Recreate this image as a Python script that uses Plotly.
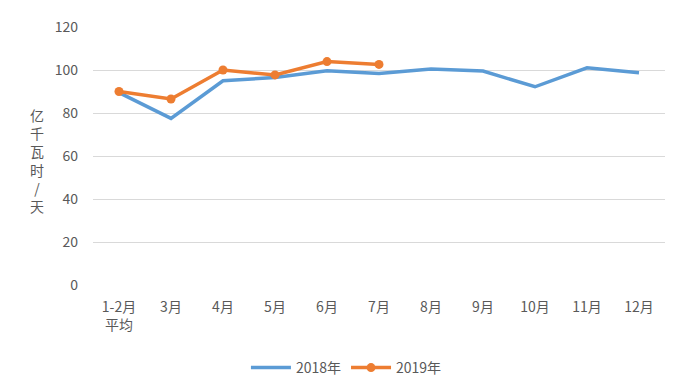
import plotly.graph_objects as go

categories = ["1-2月<br>平均", "3月", "4月", "5月", "6月", "7月", "8月", "9月", "10月", "11月", "12月"]
values_2018 = [89.5, 77.5, 95, 96.5, 99.7, 98.4, 100.5, 99.5, 92.2, 101, 98.7]
values_2019 = [90, 86.5, 100, 97.7, 103.9, 102.6]
y_ticks = [0, 20, 40, 60, 80, 100, 120]
y_title = "亿千瓦时/天"

font_family = "Noto Sans CJK SC, Noto Sans, sans-serif"
grey = "#595959"

fig = go.Figure()
fig.add_trace(go.Scatter(
    x=categories, y=values_2018, name="2018年", mode="lines",
    line=dict(color="#5B9BD5", width=3.5),
))
fig.add_trace(go.Scatter(
    x=categories[:len(values_2019)], y=values_2019, name="2019年", mode="lines+markers",
    line=dict(color="#ED7D31", width=3.5),
    marker=dict(color="#ED7D31", size=9),
))

fig.update_layout(
    width=686, height=383,
    margin=dict(l=93, r=21, t=27, b=98),
    paper_bgcolor="white", plot_bgcolor="white",
    font=dict(family=font_family, size=14, color=grey),
    showlegend=True,
    legend=dict(orientation="h", x=0.505, xanchor="center", xref="container",
                y=1 - 368 / 383, yanchor="middle", yref="container",
                font=dict(size=14, color=grey), itemwidth=40, tracegroupgap=0),
    xaxis=dict(type="category", showgrid=False, showline=False, ticks="",
               tickfont=dict(size=14, color=grey), range=[-0.5, 10.5],
               automargin=False, ticklabelstandoff=12),
    yaxis=dict(range=[0, 120], tickvals=y_ticks, showgrid=True, gridcolor="#D9D9D9",
               gridwidth=1.2, zeroline=False, showline=False, ticks="",
               tickfont=dict(size=14, color=grey), ticklabelstandoff=14,
               automargin=False),
)
fig.add_annotation(
    text="<br>".join(list(y_title)), xref="paper", yref="paper",
    x=(37 - 93) / 572, y=(285 - 160) / 258, xanchor="center", yanchor="middle",
    showarrow=False, font=dict(size=14, color=grey), align="center",
)
fig.write_html("out.html", config={"displayModeBar": False},
               post_script="document.body.style.margin='0';document.body.style.overflow='hidden';")
